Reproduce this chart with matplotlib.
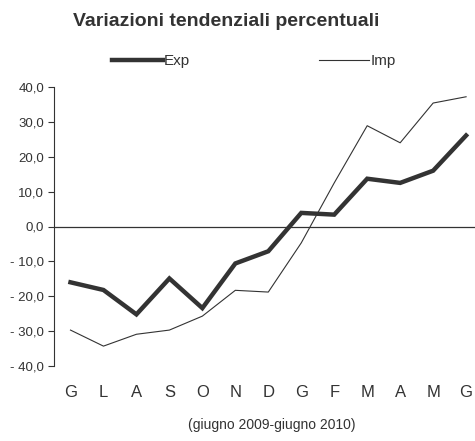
import matplotlib
matplotlib.use("Agg")
import matplotlib.pyplot as plt

months = ["G", "L", "A", "S", "O", "N", "D", "G", "F", "M", "A", "M", "G"]
exp_vals = [-16.0, -18.2, -25.2, -14.9, -23.4, -10.6, -7.1, 3.9, 3.4, 13.7, 12.5, 16.0, 26.1]
imp_vals = [-29.7, -34.3, -30.9, -29.7, -25.7, -18.3, -18.8, -4.7, 12.5, 28.9, 24.0, 35.4, 37.2]
yticks = [-40, -30, -20, -10, 0, 10, 20, 30, 40]

plt.rcParams['font.family'] = ['Liberation Sans', 'DejaVu Sans']
col = '#333333'

fig = plt.figure(figsize=(4.75, 4.41), dpi=100)
ax = fig.add_axes([54/475, 1-366/441, 421/475, 279/441])

x = list(range(len(months)))
ax.plot(x, exp_vals, color=col, lw=3.2, label='Exp', solid_joinstyle='miter')
ax.plot(x, imp_vals, color=col, lw=0.8, label='Imp')
ax.axhline(0, color=col, lw=0.9)

ax.set_xlim(-0.5, 12.27)
ax.set_ylim(-40, 40)
ax.set_yticks(yticks)
ax.set_yticklabels([f"{v:.1f}".replace('.', ',').replace('-', '- ') for v in yticks],
                   fontsize=9.5, color=col)
ax.set_xticks(x)
ax.set_xticklabels(months, fontsize=12, color=col)
ax.tick_params(axis='x', length=0, pad=14)
ax.tick_params(axis='y', length=4, width=0.8, color=col, direction='out', pad=3)
for s in ['top', 'right', 'bottom']:
    ax.spines[s].set_visible(False)
ax.spines['left'].set_color(col)
ax.spines['left'].set_linewidth(0.8)

fig.text(0.477, 1-21/441, "Variazioni tendenziali percentuali", ha='center', va='center',
         fontsize=14, fontweight='bold', color=col)
fig.legend(loc='center', bbox_to_anchor=(254/475, 1-61/441), ncol=2, frameon=False,
           fontsize=11, handlelength=3.3, handletextpad=0.1, columnspacing=8.4,
           labelcolor=col)
fig.text(272/475, 1-425/441, "(giugno 2009-giugno 2010)", ha='center', va='center',
         fontsize=10, color=col)

fig.savefig("out.png", dpi=100)
